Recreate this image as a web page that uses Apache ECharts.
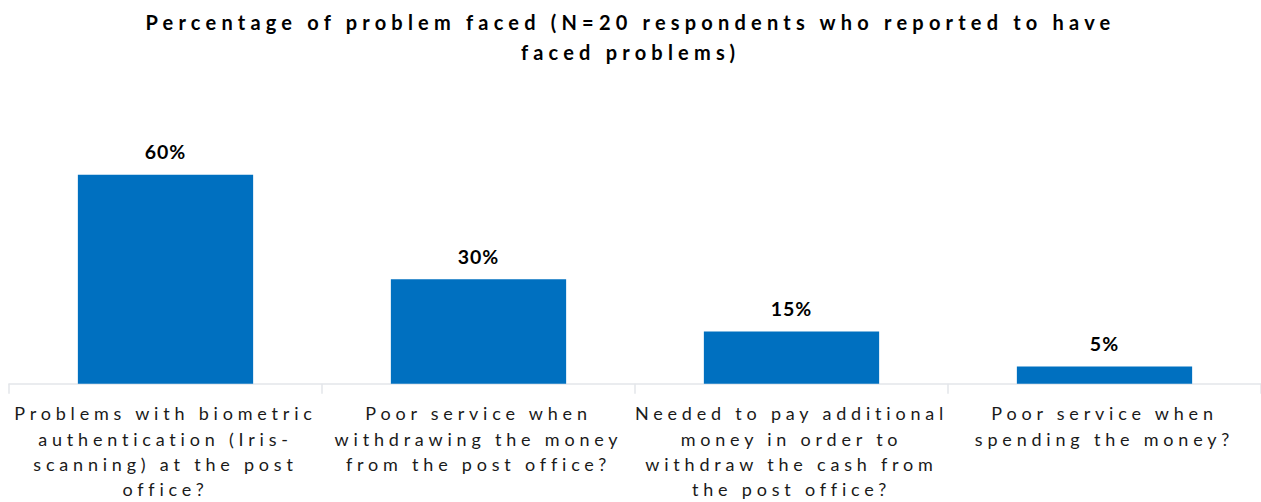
<!DOCTYPE html>
<html>
<head>
<meta charset="utf-8">
<script src="https://cdn.jsdelivr.net/npm/echarts@6/dist/echarts.min.js"></script>
<style>
  html, body { margin: 0; padding: 0; background: #fff; }
  #chart { width: 1261px; height: 502px; }
</style>
</head>
<body>
<div id="chart"></div>
<script>
const titleText = 'Percentage of problem faced (N=20 respondents who reported to have\nfaced problems)';
const categories = [
  'Problems with biometric\nauthentication (Iris-\nscanning) at the post\noffice?',
  'Poor service when\nwithdrawing the money\nfrom the post office?',
  'Needed to pay additional\nmoney in order to\nwithdraw the cash from\nthe post office?',
  'Poor service when\nspending the money?'
];
const percentValues = [60, 30, 15, 5];

const chart = echarts.init(document.getElementById('chart'), null, { renderer: 'svg' });
chart.setOption({
  animation: false,
  title: {
    text: titleText,
    left: 'center',
    top: 2,
    textStyle: {
      fontFamily: 'Lato',
      fontWeight: 'bold',
      fontSize: 20,
      lineHeight: 30,
      color: '#000'
    }
  },
  grid: { left: 9, right: 0, top: 105, bottom: 118 },
  xAxis: {
    type: 'category',
    data: categories,
    axisLine: { lineStyle: { color: '#E3E6EA', width: 1.5 } },
    axisTick: { show: true, length: 10, lineStyle: { color: '#E3E6EA', width: 1.5 } },
    axisLabel: {
      interval: 0,
      margin: 17,
      fontFamily: 'Lato',
      fontSize: 18,
      lineHeight: 25.3,
      color: '#1a1a1a'
    }
  },
  yAxis: { type: 'value', min: 0, max: 80, show: false },
  series: [{
    type: 'bar',
    data: percentValues,
    barWidth: '56%',
    itemStyle: { color: '#0070C0' },
    label: {
      show: true,
      position: 'top',
      distance: 13,
      formatter: p => p.value + '%',
      fontFamily: 'Lato',
      fontWeight: 'bold',
      fontSize: 19.5,
      color: '#000'
    }
  }]
});

// widen the tracking of every text: title, category names and value labels
const titleLines = titleText.split('\n');
function spaceLetters() {
  document.querySelectorAll('#chart text').forEach(t => {
    const s = t.textContent.trim();
    let ls = 4.8;
    if (/^\d+%$/.test(s)) ls = 1;
    else if (titleLines.includes(s)) ls = 5.2;
    t.style.letterSpacing = ls + 'px';
  });
}
spaceLetters();
chart.on('finished', spaceLetters);
</script>
</body>
</html>
